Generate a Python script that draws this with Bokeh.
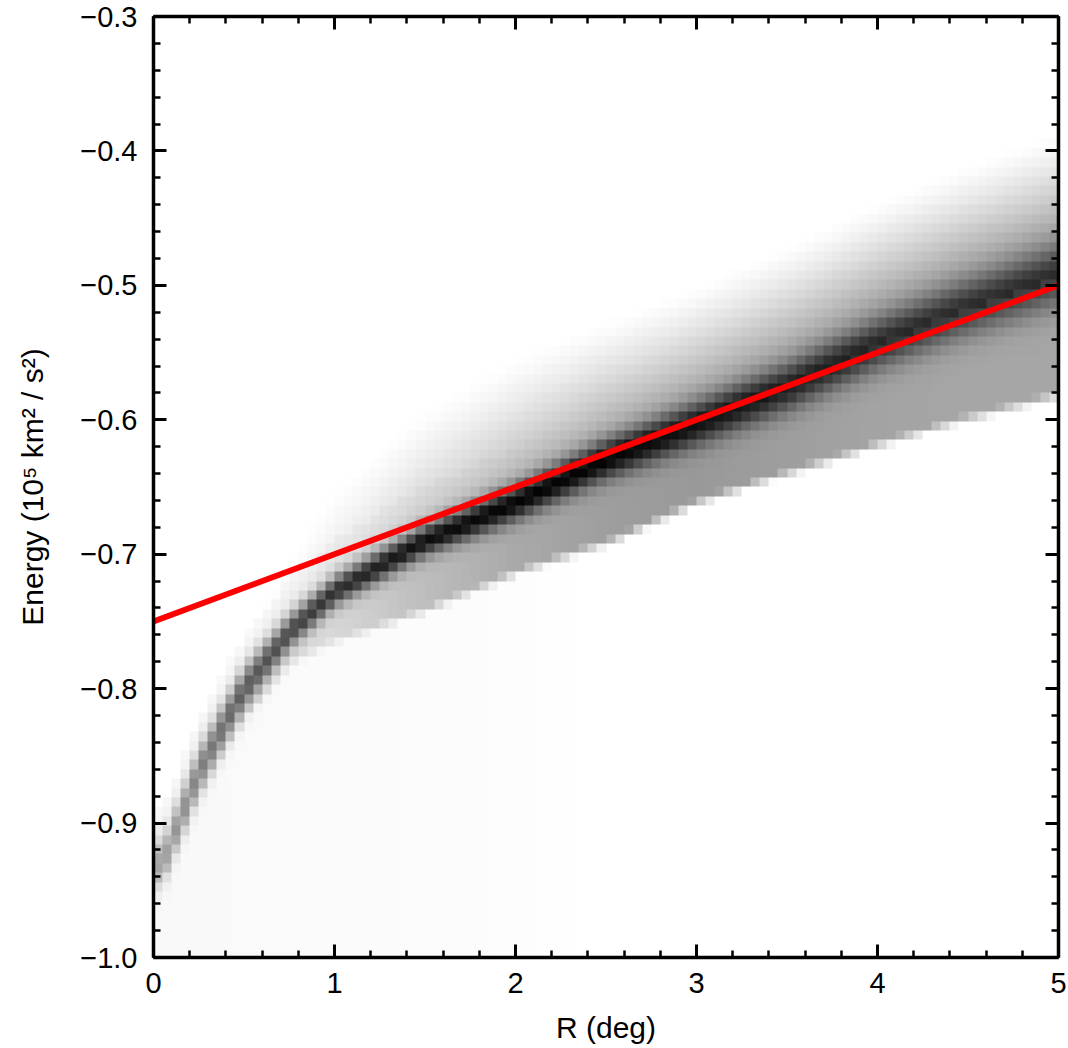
import numpy as np
from bokeh.plotting import figure
from bokeh.models import LinearAxis, FixedTicker, CustomJSTickFormatter, LinearColorMapper, Range1d
from bokeh.palettes import Greys256
from bokeh.embed import file_html
from bokeh.resources import INLINE

# ---- values ---------------------------------------------------------------
# ridge of the 2D histogram, sampled along R (deg)
r_knots = [0.05, 0.25, 0.5, 0.75, 1.0, 1.5, 2.0, 2.5, 3.0, 3.5, 4.0, 4.5, 5.0]
ridge_e = [-0.930, -0.862, -0.800, -0.758, -0.728, -0.690, -0.662, -0.630, -0.604, -0.577, -0.545, -0.518, -0.494]
ridge_sigma = [0.012, 0.012, 0.011, 0.009, 0.008, 0.008, 0.009, 0.010, 0.011, 0.012, 0.013, 0.014, 0.015]
ridge_peak = [0.32, 0.45, 0.60, 0.68, 0.78, 0.92, 0.97, 0.97, 0.88, 0.78, 0.68, 0.62, 0.62]
# upper (diffuse) side of the band
upper_e = [-0.880, -0.820, -0.760, -0.700, -0.650, -0.590, -0.552, -0.525, -0.500, -0.470, -0.437, -0.410, -0.385]
upper_level = [0.03, 0.04, 0.06, 0.09, 0.14, 0.26, 0.36, 0.44, 0.50, 0.53, 0.55, 0.57, 0.58]
# lower (sharp) side of the band
lower_e = [-0.945, -0.880, -0.822, -0.782, -0.765, -0.742, -0.714, -0.692, -0.662, -0.640, -0.619, -0.599, -0.582]
lower_level = [0.05, 0.05, 0.08, 0.10, 0.14, 0.25, 0.33, 0.38, 0.40, 0.38, 0.36, 0.35, 0.35]
# faint scatter below the ridge at small R
haze_level = [0.025, 0.025, 0.022, 0.02, 0.018, 0.015, 0.01, 0.0, 0.0, 0.0, 0.0, 0.0, 0.0]

# red reference line
fit_r = [0.0, 5.0]
fit_e = [-0.75, -0.50]

x_ticks = [0, 1, 2, 3, 4, 5]
y_ticks = [-1.0, -0.9, -0.8, -0.7, -0.6, -0.5, -0.4, -0.3]

# ---- histogram image ------------------------------------------------------
nx, ny = 100, 100
x0, x1, y0, y1 = 0.0, 5.0, -1.0, -0.3
xc = x0 + (np.arange(nx) + 0.5) * (x1 - x0) / nx
yc = y0 + (np.arange(ny) + 0.5) * (y1 - y0) / ny
X, Y = np.meshgrid(xc, yc)

rc = np.interp(X, r_knots, ridge_e)
rs = np.interp(X, r_knots, ridge_sigma)
rp = np.interp(X, r_knots, ridge_peak)
ue = np.interp(X, r_knots, upper_e)
ul = np.interp(X, r_knots, upper_level)
le = np.interp(X, r_knots, lower_e)
ll = np.interp(X, r_knots, lower_level)
hl = np.interp(X, r_knots, haze_level)

ridge = rp * np.exp(-0.5 * ((Y - rc) / rs) ** 2)
t = np.clip((Y - rc) / (ue - rc), 0, 1)
band_up = np.where(Y >= rc, ul * (1 - t) ** 1.3, 0.0)
band_lo = np.where(Y < rc, ll * np.clip((Y - le) / 0.007 + 0.5, 0, 1), 0.0)
haze = np.where(Y < rc + 0.04, hl, 0.0)
img = 1 - (1 - ridge) * (1 - band_up) * (1 - band_lo) * (1 - haze)

# ---- figure ---------------------------------------------------------------
font = "Liberation Sans"
p = figure(width=1068, height=1048, x_range=Range1d(x0, x1), y_range=Range1d(y0, y1),
           output_backend="svg", toolbar_location=None,
           min_border_left=153, min_border_right=10, min_border_top=16, min_border_bottom=91)
p.grid.visible = False
p.outline_line_color = None

mapper = LinearColorMapper(palette=list(reversed(Greys256)), low=0, high=1)
p.image(image=[img], x=x0, y=y0, dw=x1 - x0, dh=y1 - y0, color_mapper=mapper)
p.line(fit_r, fit_e, line_color="#ff0000", line_width=6)

x_ticker = FixedTicker(ticks=x_ticks, minor_ticks=list(np.round(np.arange(0, 5.0001, 0.2), 3)))
y_ticker = FixedTicker(ticks=y_ticks, minor_ticks=list(np.round(np.arange(-1.0, -0.2999, 0.02), 3)))


def style_axis(ax):
    ax.axis_line_width = 3.5
    ax.axis_line_color = "black"
    ax.major_tick_in = 13
    ax.major_tick_out = 0
    ax.minor_tick_in = 7
    ax.minor_tick_out = 0
    ax.major_tick_line_width = 3
    ax.minor_tick_line_width = 2.5
    ax.major_label_text_font = font
    ax.major_label_text_font_size = "29px"
    ax.major_label_text_color = "black"
    ax.axis_label_text_font = font
    ax.axis_label_text_font_size = "30px"
    ax.axis_label_text_font_style = "normal"
    ax.axis_label_text_color = "black"


p.xaxis.ticker = x_ticker
p.yaxis.ticker = y_ticker
p.xaxis.formatter = CustomJSTickFormatter(code="return tick.toFixed(0)")
p.yaxis.formatter = CustomJSTickFormatter(
    code="return (tick < 0 ? '\\u2212' : '') + Math.abs(tick).toFixed(1)")
p.xaxis.axis_label = "R (deg)"
p.yaxis.axis_label = "Energy (10\u2075 km\u00b2 / s\u00b2)"
style_axis(p.xaxis[0])
style_axis(p.yaxis[0])
p.xaxis.major_label_standoff = 15
p.xaxis.axis_label_standoff = 15
p.yaxis.major_label_standoff = 16
p.yaxis.axis_label_standoff = 28

# ticks on the top and right edges, no labels
top = LinearAxis(ticker=x_ticker)
right = LinearAxis(ticker=y_ticker)
for ax in (top, right):
    style_axis(ax)
    ax.major_label_text_font_size = "0px"
    ax.major_label_standoff = 0
    ax.formatter = CustomJSTickFormatter(code="return ''")
p.add_layout(top, "above")
p.add_layout(right, "right")

open("out.html", "w").write(file_html(p, INLINE))
